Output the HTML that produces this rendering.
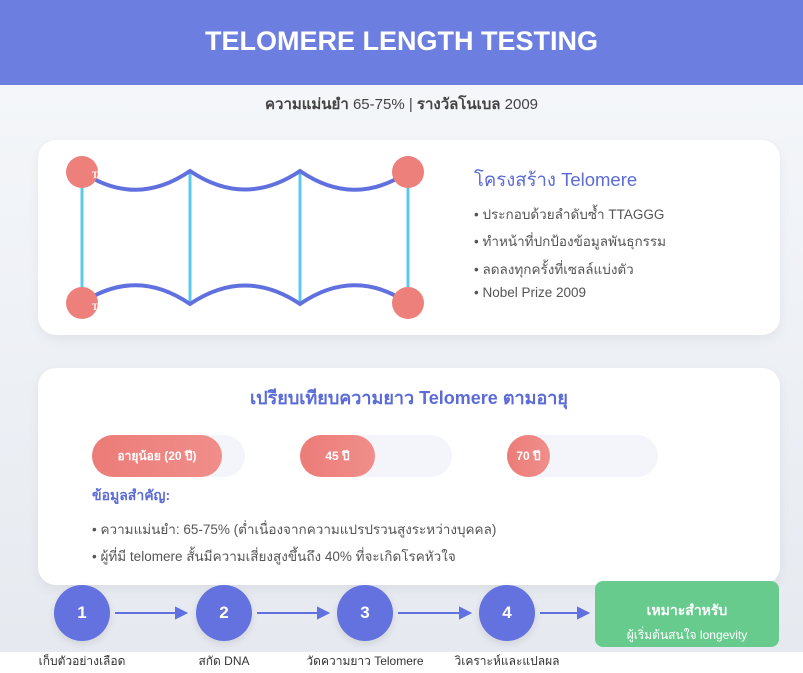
<!DOCTYPE html>
<html><head><meta charset="utf-8"><style>
*{margin:0;padding:0;box-sizing:border-box}
body{width:803px;height:673px;position:relative;background:#fff;font-family:"Liberation Sans","Noto Sans CJK SC",sans-serif;overflow:hidden}
.bg{position:absolute;left:0;top:0;width:803px;height:652px;background:linear-gradient(180deg,#f6f8fb,#e6eaf0)}
.hdr{position:absolute;left:0;top:0;width:803px;height:85px;background:#6c7fe0;color:#fff;font-size:27px;font-weight:bold;text-align:center;line-height:82px}
.a{position:absolute}
.card{position:absolute;background:#fff;border-radius:18px;box-shadow:0 4px 12px rgba(0,0,0,.06)}
.t{position:absolute;white-space:nowrap}
.bar{position:absolute;height:42px;border-radius:21px;background:#f3f5fa}
.fill{position:absolute;left:0;top:0;height:42px;border-radius:21px;background:linear-gradient(90deg,#ec7c78,#f08e8a);color:#fff;font-size:12px;font-weight:bold;text-align:center;line-height:42px}
.c{position:absolute;width:56px;height:56px;border-radius:50%;background:#6372df;color:#fff;font-size:17px;font-weight:bold;text-align:center;line-height:56px;box-shadow:0 3px 8px rgba(0,0,0,.1)}
.lb{position:absolute;top:652px;font-size:12px;color:#333;white-space:nowrap;transform:translateX(-50%)}
.r{font-size:13.5px;color:#555}
</style></head><body>
<div class="bg"></div>
<div class="hdr">TELOMERE LENGTH TESTING</div>
<div class="t" style="left:0;width:803px;text-align:center;top:92px;font-size:15px;color:#444"><b>ความแม่นยำ</b> 65-75% | <b>รางวัลโนเบล</b> 2009</div>

<div class="card" style="left:38px;top:140px;width:742px;height:195px"></div>
<svg class="a" style="left:0;top:0" width="803" height="673">
<g stroke="#5bc8ec" stroke-width="3"><line x1="82" y1="172" x2="82" y2="303"/><line x1="190" y1="172" x2="190" y2="303"/><line x1="300" y1="172" x2="300" y2="303"/><line x1="408" y1="172" x2="408" y2="303"/></g>
<g stroke="#6170df" stroke-width="4" fill="none">
<path d="M82,172 Q136,208 190,171 Q245,208 300,171 Q354,208 408,172"/>
<path d="M82,303 Q136,267 190,304 Q245,267 300,304 Q354,267 408,303"/></g>
<g fill="#ee807c"><circle cx="82" cy="172" r="16"/><circle cx="408" cy="172" r="16"/><circle cx="82" cy="303" r="16"/><circle cx="408" cy="303" r="16"/></g>
<text x="92" y="178" font-size="9" fill="#fff" font-weight="bold" font-family="Liberation Serif">T</text>
<text x="92" y="310" font-size="9" fill="#fff" font-weight="bold" font-family="Liberation Serif">T</text>
<g stroke="#6170df" stroke-width="2" fill="#6170df">
<line x1="115" y1="613" x2="178" y2="613"/><path d="M186,613 L176,608 L176,618Z"/>
<line x1="257" y1="613" x2="320" y2="613"/><path d="M328,613 L318,608 L318,618Z"/>
<line x1="398" y1="613" x2="462" y2="613"/><path d="M470,613 L460,608 L460,618Z"/>
<line x1="540" y1="613" x2="580" y2="613"/><path d="M588,613 L578,608 L578,618Z"/></g>
</svg>
<div class="t" style="left:474px;top:166px;font-size:18.5px;color:#5b6bd8">โครงสร้าง Telomere</div>
<div class="t r" style="left:474px;top:203px">• ประกอบด้วยลำดับซ้ำ TTAGGG</div>
<div class="t r" style="left:474px;top:230px">• ทำหน้าที่ปกป้องข้อมูลพันธุกรรม</div>
<div class="t r" style="left:474px;top:258px">• ลดลงทุกครั้งที่เซลล์แบ่งตัว</div>
<div class="t r" style="left:474px;top:285px">• Nobel Prize 2009</div>

<div class="card" style="left:38px;top:368px;width:742px;height:217px"></div>
<div class="t" style="left:38px;width:742px;text-align:center;top:383px;font-size:18px;color:#5b6bd8;font-weight:bold">เปรียบเทียบความยาว Telomere ตามอายุ</div>
<div class="bar" style="left:92px;top:435px;width:153px"><div class="fill" style="width:130px">อายุน้อย (20 ปี)</div></div>
<div class="bar" style="left:300px;top:435px;width:152px"><div class="fill" style="width:75px">45 ปี</div></div>
<div class="bar" style="left:507px;top:435px;width:151px"><div class="fill" style="width:43px">70 ปี</div></div>
<div class="t" style="left:92px;top:485px;font-size:14px;color:#5b6bd8;font-weight:bold">ข้อมูลสำคัญ:</div>
<div class="t r" style="left:92px;top:518px">• ความแม่นยำ: 65-75% (ต่ำเนื่องจากความแปรปรวนสูงระหว่างบุคคล)</div>
<div class="t r" style="left:92px;top:545px">• ผู้ที่มี telomere สั้นมีความเสี่ยงสูงขึ้นถึง 40% ที่จะเกิดโรคหัวใจ</div>

<div class="c" style="left:54px;top:585px">1</div>
<div class="c" style="left:196px;top:585px">2</div>
<div class="c" style="left:337px;top:585px">3</div>
<div class="c" style="left:479px;top:585px">4</div>
<div class="a" style="left:595px;top:581px;width:184px;height:66px;background:#68cb8e;border-radius:8px;color:#fff;text-align:center">
<div style="font-size:14px;font-weight:bold;margin-top:19px">เหมาะสำหรับ</div>
<div style="font-size:12px;margin-top:4px">ผู้เริ่มต้นสนใจ longevity</div></div>
<div class="lb" style="left:82px">เก็บตัวอย่างเลือด</div>
<div class="lb" style="left:224px">สกัด DNA</div>
<div class="lb" style="left:365px">วัดความยาว Telomere</div>
<div class="lb" style="left:507px">วิเคราะห์และแปลผล</div>
</body></html>
